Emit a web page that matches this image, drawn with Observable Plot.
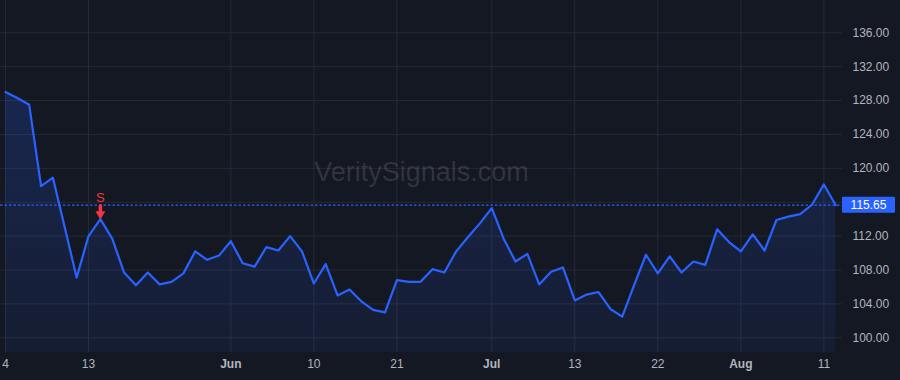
<!DOCTYPE html>
<html>
<head>
<meta charset="utf-8">
<script src="https://cdn.jsdelivr.net/npm/d3@7"></script>
<script src="https://cdn.jsdelivr.net/npm/@observablehq/plot@0.6"></script>
<style>
  html, body { margin: 0; padding: 0; background: #141823; }
  #chart svg { display: block; }
</style>
</head>
<body>
<div id="chart"></div>
<script>
// ---- data (trading days) ----
const dates = [
  "2021-05-04","2021-05-05","2021-05-06","2021-05-07","2021-05-10","2021-05-11","2021-05-12","2021-05-13","2021-05-14",
  "2021-05-17","2021-05-18","2021-05-19","2021-05-20","2021-05-21","2021-05-24","2021-05-25","2021-05-26","2021-05-27","2021-05-28",
  "2021-06-01","2021-06-02","2021-06-03","2021-06-04","2021-06-07","2021-06-08","2021-06-09","2021-06-10","2021-06-11",
  "2021-06-14","2021-06-15","2021-06-16","2021-06-17","2021-06-18","2021-06-21","2021-06-22","2021-06-23","2021-06-24","2021-06-25",
  "2021-06-28","2021-06-29","2021-06-30",
  "2021-07-01","2021-07-02","2021-07-06","2021-07-07","2021-07-08","2021-07-09","2021-07-12","2021-07-13","2021-07-14","2021-07-15",
  "2021-07-16","2021-07-19","2021-07-20","2021-07-21","2021-07-22","2021-07-23","2021-07-26","2021-07-27","2021-07-28","2021-07-29","2021-07-30",
  "2021-08-02","2021-08-03","2021-08-04","2021-08-05","2021-08-06","2021-08-09","2021-08-10","2021-08-11","2021-08-12"
];
const values = [
  129.0, 128.3, 127.5, 117.9, 118.9, 113.0, 107.1, 112.0, 114.0,
  111.7, 107.7, 106.2, 107.7, 106.3, 106.6, 107.6, 110.2, 109.2, 109.7,
  111.4, 108.8, 108.4, 110.7, 110.3, 112.0, 110.2, 106.4, 108.7,
  105.0, 105.7, 104.3, 103.3, 103.0, 106.8, 106.6, 106.6, 108.1, 107.7,
  110.2, 111.9, 113.5,
  115.3, 111.7, 109.0, 109.9, 106.3, 107.8, 108.3, 104.4, 105.1, 105.4,
  103.4, 102.5, 106.2, 109.8, 107.6, 109.6, 107.7, 109.0, 108.6, 112.8, 111.3,
  110.2, 112.2, 110.3, 113.9, 114.3, 114.6, 115.7, 118.1, 115.65
];
const tickDates  = ["2021-05-04","2021-05-13","2021-06-01","2021-06-10","2021-06-21","2021-07-01","2021-07-13","2021-07-22","2021-08-02","2021-08-11"];
const tickLabels = ["4","13","Jun","10","21","Jul","13","22","Aug","11"];
const monthLabels = ["Jun","Jul","Aug"];
const yGridTicks = [100, 104, 108, 112, 116, 120, 124, 128, 132, 136];
const yLabelTicks = [100, 104, 108, 112, 120, 124, 128, 132, 136]; // 116 is covered by the price label
const signalDates = ["2021-05-14"];
const signalLabels = ["S"];
const lastPrice = 115.65;
const watermark = "VeritySignals.com";

// ---- build tables ----
const data = dates.map((d, i) => ({i, date: d, value: values[i]}));
const ticks = tickDates.map((d, k) => ({i: dates.indexOf(d), label: tickLabels[k], month: monthLabels.includes(tickLabels[k])}));
const signals = signalDates.map((d, k) => ({i: dates.indexOf(d), value: values[dates.indexOf(d)], label: signalLabels[k]}));

const yDomain = [98.26, 139.81];
const xDomain = [-0.42, 70.57];

const font = "'Liberation Sans', Arial, sans-serif";
const blue = "#2962ff";
const red = "#f23645";
const grid = "#262a36";
const textCol = "#b2b5be";

const priceLabel = (index, scales, values, dims) => {
  const g = d3.create("svg:g");
  const y = scales.y(lastPrice);
  const x0 = dims.width - dims.marginRight;
  g.append("rect").attr("x", x0).attr("y", y - 8).attr("width", 53).attr("height", 16).attr("fill", blue).attr("rx", 1);
  g.append("text").attr("x", x0 + 26.5).attr("y", y).attr("dy", "0.35em").attr("text-anchor", "middle")
    .attr("fill", "#ffffff").attr("font-size", 12).attr("font-family", font)
    .text(lastPrice.toFixed(2));
  return g.node();
};

const chart = Plot.plot({
  width: 900,
  height: 380,
  marginTop: 0,
  marginLeft: 0,
  marginRight: 58,
  marginBottom: 28,
  style: {background: "#141823", fontFamily: font, fontSize: "12px", color: textCol},
  x: {domain: xDomain, axis: null},
  y: {domain: yDomain, axis: null},
  marks: [
    Plot.gridY(yGridTicks, {stroke: grid, strokeOpacity: 1}),
    Plot.gridX(ticks, {x: "i", stroke: grid, strokeOpacity: 1}),
    Plot.text([watermark], {text: d => d, frameAnchor: "middle", dy: -4, fontSize: 27, fontFamily: font, fill: "#ffffff", fillOpacity: 0.13}),
    Plot.areaY(data, {x: "i", y1: yDomain[0], y2: "value", fill: "url(#areaGrad)"}),
    Plot.ruleY([lastPrice], {stroke: blue, strokeWidth: 1.2, strokeDasharray: "2.5,2"}),
    Plot.lineY(data, {x: "i", y: "value", stroke: blue, strokeWidth: 2.2, strokeLinejoin: "round"}),
    Plot.text(signals, {x: "i", y: "value", text: "label", fill: red, fontSize: 13, fontFamily: font, dy: -21}),
    Plot.vector(signals, {x: "i", y: "value", length: 6, rotate: 180, anchor: "end", stroke: red, strokeWidth: 3.5, shape: {draw(ctx, l) { ctx.moveTo(0, 0); ctx.lineTo(0, -l); }}, dy: -7.5}),
    Plot.dot(signals, {x: "i", y: "value", symbol: "triangle", rotate: 180, r: 3.6, fill: red, dy: -5}),
    Plot.axisY(yLabelTicks, {anchor: "right", label: null, tickSize: 0, tickPadding: 10, tickFormat: d => d.toFixed(2), fill: textCol, fontSize: 12, fontFamily: font}),
    Plot.text(ticks.filter(t => !t.month), {x: "i", text: "label", frameAnchor: "bottom", dy: 15, fill: textCol, fontSize: 12, fontFamily: font}),
    Plot.text(ticks.filter(t => t.month), {x: "i", text: "label", frameAnchor: "bottom", dy: 15, fill: textCol, fontSize: 12, fontFamily: font, fontWeight: "bold"}),
    priceLabel
  ]
});

// gradient for area fill
const svg = d3.select(chart);
const defs = svg.insert("defs", ":first-child");
const lg = defs.append("linearGradient").attr("id", "areaGrad").attr("x1", 0).attr("y1", 0).attr("x2", 0).attr("y2", 1);
lg.append("stop").attr("offset", "0%").attr("stop-color", blue).attr("stop-opacity", 0.2);
lg.append("stop").attr("offset", "100%").attr("stop-color", blue).attr("stop-opacity", 0.07);

document.getElementById("chart").appendChild(chart);
</script>
</body>
</html>
